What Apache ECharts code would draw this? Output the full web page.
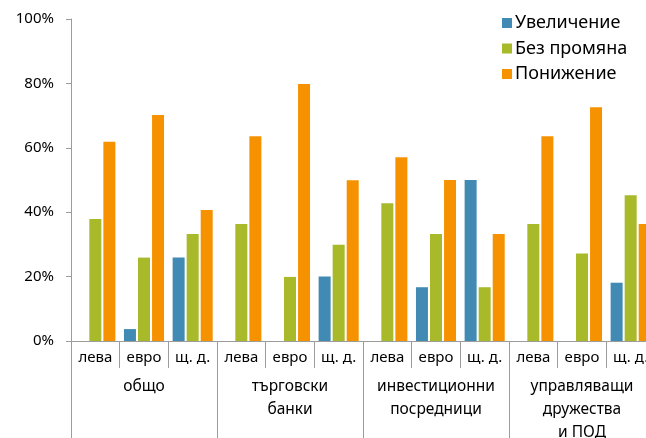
<!DOCTYPE html>
<html><head><meta charset="utf-8">
<script src="https://cdn.jsdelivr.net/npm/echarts@6/dist/echarts.min.js"></script>
<style>html,body{margin:0;padding:0;background:#fff}#c{width:646px;height:438px}</style>
</head><body><div id="c"></div>
<script>
const subCategories = ['лева','евро','щ. д.','лева','евро','щ. д.','лева','евро','щ. д.','лева','евро','щ. д.'];
const groupLabels = ['общо','търговски\nбанки','инвестиционни\nпосредници','управляващи\nдружества\nи ПОД'];
const seriesNames = ['Увеличение','Без промяна','Понижение'];
const increase = [0, 3.7, 25.9, 0, 0, 20, 0, 16.7, 50, 0, 0, 18.1];
const noChange = [37.9, 25.9, 33.2, 36.3, 19.9, 29.9, 42.8, 33.2, 16.7, 36.3, 27.2, 45.3];
const decrease = [61.9, 70.2, 40.7, 63.6, 79.8, 49.9, 57.1, 50, 33.2, 63.6, 72.6, 36.3];
const yTicks = [0, 20, 40, 60, 80, 100];
const colors = ['#418AB3', '#A8B92A', '#F69200'];

const font = 'Noto Sans';
const axisGray = '#9c9c9c';
const chart = echarts.init(document.getElementById('c'), null, {renderer: 'canvas'});
const values = [increase, noChange, decrease];
chart.setOption({
  animation: false,
  textStyle: {fontFamily: font},
  color: colors,
  legend: {
    orient: 'vertical', left: 497, top: 8,
    itemWidth: 10, itemHeight: 10, itemGap: 5.5,
    icon: 'rect',
    textStyle: {fontFamily: font, fontSize: 18, color: '#000', lineHeight: 20, padding: [0,0,0,-2]},
    data: seriesNames
  },
  grid: {left: 71, top: 19, bottom: 97, width: 584, containLabel: false, outerBoundsMode: 'none'},
  xAxis: [{
    type: 'category', data: subCategories, position: 'bottom',
    axisLine: {show: true, lineStyle: {color: axisGray, width: 1}},
    axisTick: {show: true, length: 27, lineStyle: {color: axisGray}},
    axisLabel: {interval: 0, fontFamily: font, fontSize: 15, color: '#000', margin: 9}
  }, {
    type: 'category', data: groupLabels, position: 'bottom',
    axisLine: {show: false},
    axisTick: {show: true, length: 100, lineStyle: {color: axisGray}},
    axisLabel: {interval: 0, fontFamily: font, fontSize: 15.5, color: '#000', margin: 34, lineHeight: 23}
  }],
  yAxis: {
    type: 'value', min: yTicks[0], max: yTicks[yTicks.length-1], interval: 20,
    splitLine: {show: false},
    axisLine: {show: true, lineStyle: {color: axisGray}},
    axisTick: {show: true, length: 5, lineStyle: {color: axisGray}},
    axisLabel: {formatter: '{value}%', fontFamily: font, fontSize: 15, color: '#000', margin: 17}
  },
  series: seriesNames.map((n, i) => ({
    name: n, type: 'bar', xAxisIndex: 0, data: values[i],
    barWidth: 12, barGap: '17%',
    itemStyle: {color: colors[i]}
  }))
});
</script></body></html>
